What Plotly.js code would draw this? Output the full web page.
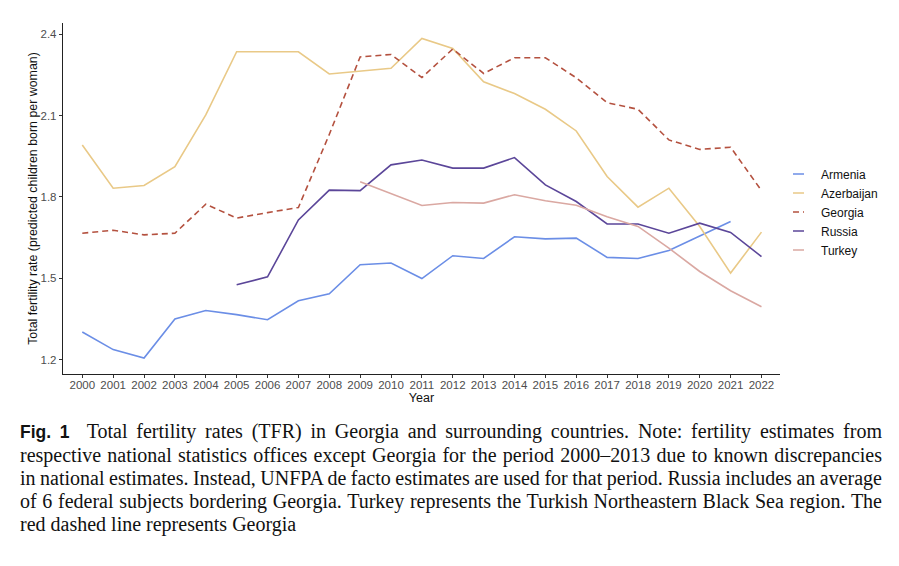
<!DOCTYPE html>
<html>
<head>
<meta charset="utf-8">
<script src="https://cdn.plot.ly/plotly-3.0.1.min.js"></script>
<style>
html,body{margin:0;padding:0;background:#fff;}
#wrap{position:relative;width:899px;height:566px;overflow:hidden;}
#chart{position:absolute;left:0;top:0;width:899px;height:566px;}
#cap{position:absolute;left:20px;top:420px;width:862px;font-family:"Liberation Serif","Times New Roman",serif;font-size:20px;color:#111;line-height:23px;}
#cap div{text-align:justify;text-align-last:justify;white-space:nowrap;}
#cap div.last{text-align-last:left;}
#cap b{font-family:"Liberation Sans",Arial,sans-serif;font-weight:bold;font-size:17.5px;}
</style>
</head>
<body>
<div id="wrap">
<div id="chart"></div>
<div id="cap">
<div><b>Fig. 1</b>&nbsp; Total fertility rates (TFR) in Georgia and surrounding countries. Note: fertility estimates from</div>
<div>respective national statistics offices except Georgia for the period 2000–2013 due to known discrepancies</div>
<div>in national estimates. Instead, UNFPA de facto estimates are used for that period. Russia includes an average</div>
<div>of 6 federal subjects bordering Georgia. Turkey represents the Turkish Northeastern Black Sea region. The</div>
<div class="last">red dashed line represents Georgia</div>
</div>
</div>
<script>
const years = [2000,2001,2002,2003,2004,2005,2006,2007,2008,2009,2010,2011,2012,2013,2014,2015,2016,2017,2018,2019,2020,2021,2022];
const armenia    = [1.302,1.237,1.206,1.350,1.381,1.366,1.347,1.417,1.443,1.550,1.556,1.499,1.583,1.573,1.653,1.645,1.648,1.577,1.573,1.602,1.656,1.709,null];
const azerbaijan = [1.991,1.832,1.842,1.911,2.102,2.335,2.335,2.335,2.253,2.264,2.274,2.384,2.347,2.224,2.181,2.123,2.043,1.875,1.762,1.832,1.691,1.519,1.670];
const georgia    = [1.666,1.677,1.660,1.666,1.773,1.722,1.742,1.761,2.030,2.316,2.325,2.240,2.345,2.255,2.313,2.313,2.239,2.147,2.123,2.010,1.975,1.983,1.823];
const russia     = [null,null,null,null,null,1.476,1.505,1.715,1.825,1.823,1.918,1.936,1.906,1.906,1.945,1.844,1.783,1.700,1.700,1.666,1.703,1.669,1.580];
const turkey     = [null,null,null,null,null,null,null,null,null,1.856,1.812,1.768,1.779,1.777,1.808,1.786,1.769,1.727,1.691,1.611,1.525,1.454,1.395];
const yTicks = [1.2,1.5,1.8,2.1,2.4];
const yTickLabels = ["1.2","1.5","1.8","2.1","2.4"];

const colors = {Armenia:"#6b8ee6",Azerbaijan:"#e9c987",Georgia:"#b4513f",Russia:"#5b4699",Turkey:"#daa8a2"};
function tr(name, y, dash){
  return {x:years,y:y,name:name,type:"scatter",mode:"lines",connectgaps:false,
    line:{color:colors[name],width:1.6,dash:dash||"solid"}};
}
const data = [
  tr("Armenia",armenia),
  tr("Azerbaijan",azerbaijan),
  tr("Georgia",georgia,"6px,4px"),
  tr("Russia",russia),
  tr("Turkey",turkey)
];
const sans = "Liberation Sans, Arial, sans-serif";
const tickFont = {family:sans,size:11.5,color:"#4d4d4d"};
const layout = {
  width:899,height:566,
  margin:{l:63,r:119,t:23,b:192,pad:0},
  paper_bgcolor:"#fff",plot_bgcolor:"#fff",
  showlegend:true,
  legend:{x:781,xref:"paper",xanchor:"left",y:0.4615,yanchor:"middle",font:{family:sans,size:12,color:"#111"},tracegroupgap:0,bgcolor:"rgba(0,0,0,0)"},
  xaxis:{range:[1999.375,2022.6],tickmode:"array",tickvals:years,ticktext:years.map(String),
    showgrid:false,zeroline:false,showline:true,linecolor:"#222",linewidth:1.2,
    ticks:"outside",ticklen:3,tickcolor:"#333",tickwidth:1,tickfont:tickFont,ticklabelstandoff:-3,
    title:{text:"Year",font:{family:sans,size:12.5,color:"#111"},standoff:0}},
  yaxis:{range:[1.147,2.441],tickmode:"array",tickvals:yTicks,ticktext:yTickLabels,
    showgrid:false,zeroline:false,showline:true,linecolor:"#222",linewidth:1.2,
    ticks:"outside",ticklen:3,tickcolor:"#333",tickwidth:1,tickfont:tickFont,
    title:{text:"Total fertility rate (predicted children born per woman)",font:{family:sans,size:12.4,color:"#111"},standoff:0}}
};
// legend x in paper fraction: left edge at pixel 781
layout.legend.x = (781-63)/(899-63-119);
Plotly.newPlot("chart",data,layout,{displayModeBar:false,staticPlot:true}).then(function(gd){
  // shorten legend key lines like ggplot
  gd.querySelectorAll(".legend .traces .js-line").forEach(function(p){
    p.setAttribute("d","M12,0h11");
  });
  gd.querySelectorAll(".legend .traces text.legendtext").forEach(function(t){
    t.setAttribute("x","40");
  });
});
// fit caption lines
document.querySelectorAll("#cap div").forEach(function(d){
  var w = d.scrollWidth;
  if (w > 862) {
    var n = (d.textContent.match(/ /g)||[]).length;
    d.style.wordSpacing = (-(w-862)/n - 0.2) + "px";
  }
});
</script>
</body>
</html>
